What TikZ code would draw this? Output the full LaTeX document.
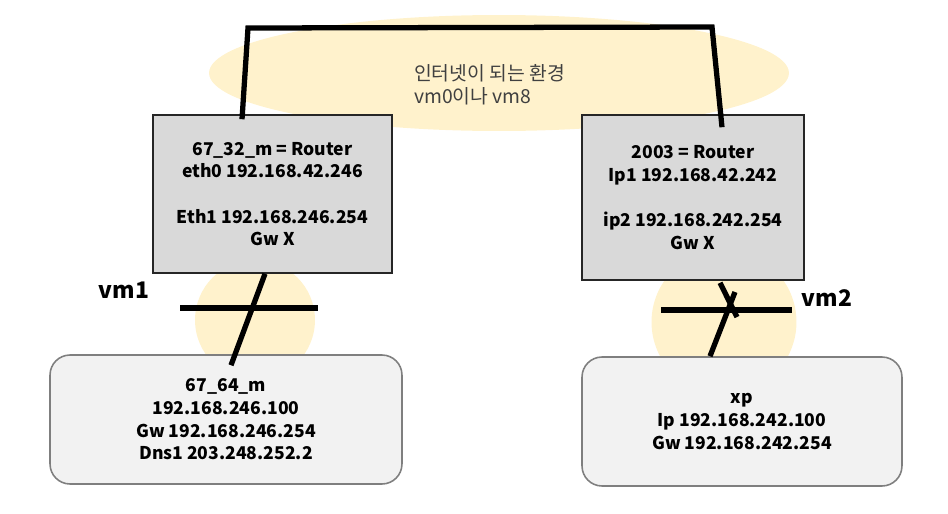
\documentclass[tikz,border=0pt]{standalone}
\usepackage{fontspec}
\setmainfont{Noto Sans CJK KR}
\usepackage{tikz}
\usetikzlibrary{shapes.geometric}
\definecolor{cloudbg}{HTML}{FFF2CC}
\definecolor{routerbg}{HTML}{D9D9D9}
\definecolor{hostbg}{HTML}{F2F2F2}
\definecolor{hostline}{HTML}{7F7F7F}
\definecolor{txtgrey}{HTML}{404040}

\begin{document}
\begin{tikzpicture}[x=0.02cm,y=-0.02cm,
  router/.style={draw=black!85,fill=routerbg,line width=0.9pt,
    minimum width=4.78cm,minimum height=3.16cm,align=center,
    font=\fontsize{10}{12.9}\selectfont\bfseries},
  host/.style={draw=hostline,fill=hostbg,line width=0.9pt,rounded corners=0.4cm,
    minimum height=2.58cm,align=center,
    font=\fontsize{10}{12.9}\selectfont\bfseries},
  spot/.style={circle,fill=cloudbg,inner sep=0pt},
  link/.style={line width=3pt},
  vmlabel/.style={font=\fontsize{13}{15}\selectfont\bfseries},
]
\useasboundingbox (0,0) rectangle (948,514);

% background: internet cloud and the two switches
\node[ellipse,fill=cloudbg,minimum width=11.6cm,minimum height=2.32cm] (cloud) at (499,73) {};
\node[anchor=west,align=left,text=txtgrey,font=\fontsize{11}{12.9}\selectfont] (net) at (408,85)
  {인터넷이 되는 환경\\vm0이나 vm8};
\node[spot,minimum size=2.4cm] (s1) at (255,320) {};
\node[spot,minimum size=2.9cm] (s2) at (724,322) {};

% routers
\node[router] (r1) at (272.5,194)
  {67\_32\_m = Router\\eth0 192.168.42.246\\[12.9pt]Eth1 192.168.246.254\\Gw X};
\node[router,minimum width=4.44cm,minimum height=3.3cm] (r2) at (693,197.5)
  {2003 = Router\\Ip1 192.168.42.242\\[12.9pt]ip2 192.168.242.254\\Gw X};

% hosts
\node[host,minimum width=7.04cm] (h1) at (226,419.5)
  {67\_64\_m\\192.168.246.100\\Gw 192.168.246.254\\Dns1 203.248.252.2};
\node[host,minimum width=6.4cm] (h2) at (742,421.5)
  {xp\\Ip 192.168.242.100\\Gw 192.168.242.254};

% wires
\coordinate (c1) at (248,28);
\coordinate (c2) at (712,27);
\draw[link] ([xshift=-0.61cm,yshift=-0.1cm]r1.north) -- (c1) -- (c2)
  -- ([xshift=0.58cm,yshift=-0.26cm]r2.north);

\coordinate (b1l) at (180,308);
\coordinate (b1r) at (318,308);
\draw[link] ([xshift=-0.15cm]r1.south) -- ([xshift=0.1cm,yshift=-0.22cm]h1.north);
\draw[link] (b1l) -- (b1r);

\coordinate (b2l) at (661,310);
\coordinate (b2r) at (792,310);
\coordinate (x2a) at (737,317);
\coordinate (x2b) at (735,292);
\draw[link] ([xshift=0.54cm,yshift=-0.04cm]r2.south) -- (x2a);
\draw[link] (x2b) -- ([xshift=-0.64cm]h2.north);
\draw[link] (b2l) -- (b2r);

\node[vmlabel] (vm1) at (124,290) {vm1};
\node[vmlabel] (vm2) at (827,298) {vm2};
\end{tikzpicture}
\end{document}
